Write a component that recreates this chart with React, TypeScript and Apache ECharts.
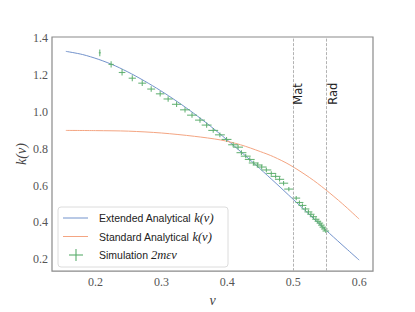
import React, { useEffect, useRef } from "react";
import * as echarts from "echarts";

// Extended analytical k(v)
const extV = [0.155, 0.18, 0.205, 0.23, 0.255, 0.28, 0.305, 0.33, 0.355, 0.38, 0.405, 0.43, 0.455, 0.48, 0.505, 0.53, 0.555, 0.58, 0.6];
const extK = [1.330, 1.313, 1.286, 1.251, 1.207, 1.157, 1.102, 1.042, 0.977, 0.907, 0.832, 0.754, 0.674, 0.592, 0.508, 0.424, 0.340, 0.259, 0.195];

// Standard analytical k(v)
const stdV = [0.155, 0.2, 0.25, 0.3, 0.35, 0.39, 0.42, 0.45, 0.47, 0.495, 0.525, 0.548, 0.575, 0.6];
const stdK = [0.900, 0.899, 0.896, 0.886, 0.868, 0.848, 0.822, 0.785, 0.757, 0.712, 0.643, 0.581, 0.500, 0.418];

// Simulation 2mεv with error bars
const simV = [0.2065, 0.2237, 0.2403, 0.2558, 0.2709, 0.2845, 0.2981, 0.3102, 0.3230, 0.3358, 0.3464, 0.3585, 0.3686, 0.3786, 0.3887, 0.3988, 0.4088, 0.4163, 0.4214, 0.4279, 0.4340, 0.4400, 0.4460, 0.4521, 0.4592, 0.4667, 0.4732, 0.4792, 0.4853, 0.4933, 0.5045, 0.5094, 0.5140, 0.5185, 0.5230, 0.5268, 0.5306, 0.5343, 0.5374, 0.5404, 0.5426, 0.5449, 0.5472, 0.5494];
const simK = [1.322, 1.259, 1.215, 1.184, 1.157, 1.125, 1.099, 1.071, 1.042, 1.012, 0.983, 0.956, 0.929, 0.900, 0.876, 0.851, 0.822, 0.809, 0.779, 0.760, 0.742, 0.723, 0.712, 0.701, 0.685, 0.666, 0.650, 0.634, 0.613, 0.581, 0.532, 0.508, 0.492, 0.473, 0.457, 0.444, 0.431, 0.417, 0.406, 0.396, 0.385, 0.374, 0.364, 0.353];
const simXErr = [0.0015, 0.004, 0.005, 0.0055, 0.006, 0.006, 0.0065, 0.007, 0.007, 0.0075, 0.0075, 0.0075, 0.0075, 0.0075, 0.0075, 0.0075, 0.0075, 0.0075, 0.0075, 0.0075, 0.0075, 0.0075, 0.0075, 0.0075, 0.0075, 0.0075, 0.0075, 0.007, 0.007, 0.007, 0.006, 0.006, 0.006, 0.006, 0.006, 0.0055, 0.0055, 0.0055, 0.005, 0.005, 0.005, 0.005, 0.005, 0.005];
const simYErr = [0.018, 0.017, 0.017, 0.016, 0.016, 0.015, 0.015, 0.015, 0.015, 0.014, 0.014, 0.014, 0.014, 0.013, 0.013, 0.013, 0.013, 0.013, 0.013, 0.012, 0.012, 0.012, 0.012, 0.012, 0.012, 0.012, 0.012, 0.012, 0.012, 0.012, 0.012, 0.011, 0.011, 0.011, 0.011, 0.011, 0.011, 0.011, 0.011, 0.011, 0.011, 0.011, 0.011, 0.011];

const xTicks = [0.2, 0.3, 0.4, 0.5, 0.6];
const yTicks = [0.2, 0.4, 0.6, 0.8, 1.0, 1.2, 1.4];

const epochV = [0.4954, 0.548];
const epochLabels = ["Mat", "Rad"];
const epochLabelK = 1.04;

const legendNames = ["Extended Analytical ", "Standard Analytical ", "Simulation "];
const legendMath = ["k(v)", "k(v)", "2mεv"];

const BLUE = "#7393cc";
const ORANGE = "#f4a582";
const GREEN = "#5aad6c";

export default function App() {
  const ref = useRef<HTMLDivElement>(null);

  useEffect(() => {
    document.body.style.margin = "0";
    const chart = echarts.init(ref.current!, null, { renderer: "svg" });

    const extData = extV.map((v, i) => [v, extK[i]]);
    const stdData = stdV.map((v, i) => [v, stdK[i]]);
    const simData = simV.map((v, i) => [v, simK[i], simXErr[i], simYErr[i]]);

    const serifFont = "Liberation Serif";
    const sansFont = "Liberation Sans";

    const option: any = {
      animation: false,
      backgroundColor: "#ffffff",
      grid: {
        left: 52,
        right: 42,
        top: 37,
        bottom: 39,
        show: true,
        borderColor: "#8a8a8a",
        borderWidth: 1.2,
        backgroundColor: "transparent",
      },
      xAxis: {
        type: "value",
        min: 0.134,
        max: 0.621,
        name: "v",
        nameLocation: "middle",
        nameGap: 12,
        nameTextStyle: { fontFamily: serifFont, fontStyle: "italic", fontSize: 14, color: "#444" },
        axisLine: { show: false },
        axisTick: { show: false },
        splitLine: { show: false },
        axisLabel: {
          customValues: xTicks,
          formatter: (v: number) => v.toFixed(1),
          fontFamily: serifFont,
          fontSize: 12,
          color: "#555",
          margin: 5,
        },
      },
      yAxis: {
        type: "value",
        min: 0.135,
        max: 1.408,
        name: "k(v)",
        nameLocation: "middle",
        nameGap: 24,
        nameMoveOverlap: false,
        nameRotate: 90,
        nameTextStyle: { fontFamily: serifFont, fontStyle: "italic", fontSize: 14, color: "#444" },
        axisLine: { show: false },
        axisTick: { show: false },
        splitLine: { show: false },
        axisLabel: {
          customValues: yTicks,
          formatter: (v: number) => v.toFixed(1),
          fontFamily: serifFont,
          fontSize: 12,
          color: "#555",
          margin: 4,
        },
      },
      series: [
        {
          name: "Extended",
          type: "line",
          data: extData,
          showSymbol: false,
          symbol: "none",
          smooth: 0.3,
          lineStyle: { color: BLUE, width: 1 },
          z: 3,
          markLine: {
            silent: true,
            symbol: "none",
            label: { show: false },
            lineStyle: { color: "#b3b3b3", type: [3, 1.5], width: 1 },
            data: epochV.map((v) => ({ xAxis: v })),
          },
        },
        {
          name: "Standard",
          type: "line",
          data: stdData,
          showSymbol: false,
          symbol: "none",
          smooth: 0.3,
          lineStyle: { color: ORANGE, width: 1 },
          z: 3,
        },
        {
          name: "Simulation",
          type: "custom",
          data: simData,
          z: 4,
          renderItem: (params: any, api: any) => {
            const x = api.value(0);
            const y = api.value(1);
            const dx = api.value(2);
            const dy = api.value(3);
            const l = api.coord([x - dx, y]);
            const r = api.coord([x + dx, y]);
            const b = api.coord([x, y - dy]);
            const t = api.coord([x, y + dy]);
            const style = { stroke: GREEN, lineWidth: 1.1, opacity: 0.9 };
            return {
              type: "group",
              children: [
                { type: "line", shape: { x1: l[0], y1: l[1], x2: r[0], y2: r[1] }, style },
                { type: "line", shape: { x1: b[0], y1: b[1], x2: t[0], y2: t[1] }, style },
              ],
            };
          },
        },
      ],
    };

    chart.setOption(option);

    const epochTexts = epochV.map((v, i) => {
      const p = chart.convertToPixel({ gridIndex: 0 }, [v, epochLabelK]) as number[];
      return {
        type: "text",
        x: p[0] + 2,
        y: p[1],
        rotation: Math.PI / 2,
        style: {
          text: epochLabels[i],
          fontFamily: "DejaVu Sans",
          fontSize: 11.5,
          fill: "#222",
          align: "left",
          verticalAlign: "top",
        },
        z: 10,
      };
    });

    const legendX = 58;
    const legendY = 207;
    const rowY = [218, 236.5, 255];
    const legendItems: any[] = [
      {
        type: "rect",
        shape: { x: legendX, y: legendY, width: 170, height: 60, r: 3 },
        style: { fill: "rgba(255,255,255,0.85)", stroke: "#dcdcdc", lineWidth: 1 },
        z: 20,
      },
      {
        type: "line",
        shape: { x1: 63, y1: rowY[0], x2: 88, y2: rowY[0] },
        style: { stroke: BLUE, lineWidth: 1 },
        z: 21,
      },
      {
        type: "line",
        shape: { x1: 63, y1: rowY[1], x2: 88, y2: rowY[1] },
        style: { stroke: ORANGE, lineWidth: 1 },
        z: 21,
      },
      {
        type: "line",
        shape: { x1: 69, y1: rowY[2], x2: 83, y2: rowY[2] },
        style: { stroke: GREEN, lineWidth: 1.1 },
        z: 21,
      },
      {
        type: "line",
        shape: { x1: 76, y1: rowY[2] - 6, x2: 76, y2: rowY[2] + 6 },
        style: { stroke: GREEN, lineWidth: 1.1 },
        z: 21,
      },
    ];
    legendNames.forEach((name, i) => {
      legendItems.push({
        type: "text",
        x: 99,
        y: rowY[i],
        style: {
          text: `{a|${name}}{m|${legendMath[i]}}`,
          verticalAlign: "middle",
          align: "left",
          rich: {
            a: { fontFamily: sansFont, fontSize: 10.5, fill: "#222" },
            m: { fontFamily: serifFont, fontStyle: "italic", fontSize: 12.5, fill: "#222" },
          },
        },
        z: 22,
      });
    });

    chart.setOption({ graphic: [...epochTexts, ...legendItems] });

    return () => chart.dispose();
  }, []);

  return (
    <div
      ref={ref}
      style={{ position: "fixed", left: 0, top: 0, width: 415, height: 312, background: "#fff" }}
    />
  );
}
